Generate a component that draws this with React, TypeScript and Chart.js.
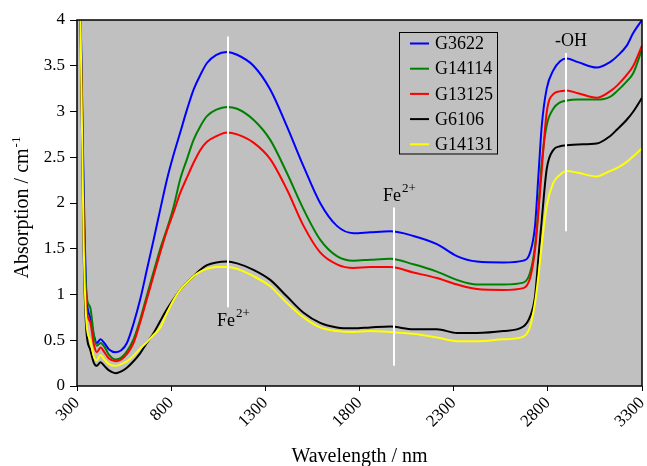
import { useEffect, useRef } from "react";
import { Chart, registerables } from "chart.js";
Chart.register(...registerables);

// Wavelength grid (nm) shared by all series
const WAVELENGTHS = [315, 335, 350, 370, 390, 405, 425, 445, 470, 505, 535, 565, 600, 636, 671, 707, 742, 778, 813, 848, 884, 919, 955, 990, 1040, 1096, 1150, 1237, 1326, 1414, 1503, 1591, 1680, 1768, 1857, 1963, 2086, 2211, 2317, 2423, 2564, 2670, 2706, 2732, 2750, 2768, 2794, 2829, 2865, 2900, 2960, 3060, 3130, 3166, 3219, 3254, 3300];

const G3622 = [4.6, 2.2, 1.0, 0.75, 0.55, 0.47, 0.51, 0.47, 0.4, 0.37, 0.39, 0.47, 0.68, 0.95, 1.27, 1.6, 1.93, 2.26, 2.53, 2.77, 3.02, 3.24, 3.4, 3.53, 3.62, 3.65, 3.62, 3.5, 3.24, 2.84, 2.4, 2.0, 1.75, 1.67, 1.68, 1.69, 1.64, 1.55, 1.42, 1.36, 1.35, 1.37, 1.46, 1.75, 2.3, 2.85, 3.25, 3.45, 3.55, 3.58, 3.54, 3.48, 3.54, 3.6, 3.72, 3.86, 4.0];
const G14114 = [4.6, 2.0, 1.0, 0.86, 0.55, 0.44, 0.47, 0.43, 0.34, 0.29, 0.31, 0.38, 0.51, 0.73, 0.99, 1.25, 1.5, 1.72, 1.96, 2.26, 2.48, 2.69, 2.84, 2.95, 3.02, 3.05, 3.03, 2.91, 2.69, 2.33, 1.93, 1.6, 1.42, 1.37, 1.38, 1.39, 1.33, 1.25, 1.16, 1.11, 1.11, 1.13, 1.24, 1.53, 1.95, 2.45, 2.85, 3.03, 3.1, 3.12, 3.13, 3.13, 3.16, 3.22, 3.33, 3.42, 3.68];
const G13125 = [4.6, 1.8, 0.85, 0.7, 0.45, 0.37, 0.42, 0.37, 0.3, 0.27, 0.29, 0.35, 0.47, 0.7, 0.95, 1.21, 1.46, 1.7, 1.9, 2.11, 2.28, 2.44, 2.58, 2.67, 2.73, 2.77, 2.75, 2.66, 2.48, 2.15, 1.75, 1.46, 1.33, 1.29, 1.3, 1.3, 1.24, 1.18, 1.11, 1.06, 1.05, 1.07, 1.18, 1.49, 1.9, 2.37, 2.99, 3.19, 3.22, 3.23, 3.2, 3.15, 3.22, 3.28, 3.4, 3.5, 3.72];
const G6106 = [4.6, 1.5, 0.6, 0.4, 0.25, 0.22, 0.26, 0.22, 0.17, 0.14, 0.16, 0.2, 0.27, 0.36, 0.47, 0.58, 0.71, 0.84, 0.95, 1.05, 1.13, 1.2, 1.27, 1.32, 1.35, 1.36, 1.34, 1.27, 1.16, 0.98, 0.8, 0.69, 0.64, 0.63, 0.64, 0.65, 0.62, 0.62, 0.58, 0.58, 0.6, 0.65, 0.76, 0.98, 1.4, 1.82, 2.37, 2.58, 2.62, 2.63, 2.64, 2.65, 2.73, 2.8, 2.91, 3.0, 3.15];
const G14131 = [4.6, 1.6, 0.7, 0.5, 0.32, 0.28, 0.34, 0.29, 0.24, 0.22, 0.24, 0.27, 0.33, 0.41, 0.48, 0.56, 0.64, 0.8, 0.94, 1.05, 1.13, 1.2, 1.25, 1.28, 1.3, 1.3, 1.28, 1.2, 1.09, 0.91, 0.75, 0.64, 0.6, 0.59, 0.6, 0.59, 0.57, 0.53, 0.49, 0.49, 0.51, 0.54, 0.65, 0.91, 1.2, 1.55, 1.97, 2.22, 2.31, 2.35, 2.33, 2.29, 2.35, 2.38, 2.45, 2.51, 2.6];

const SERIES_NAMES = ["G3622", "G14114", "G13125", "G6106", "G14131"];
const SERIES_VALUES = [G3622, G14114, G13125, G6106, G14131];
const SERIES_COLORS = ["#0000ff", "#008000", "#ff0000", "#000000", "#ffff00"];

const X_TICKS = [300, 800, 1300, 1800, 2300, 2800, 3300];
const X_MIN = 300;
const X_MAX = 3300;
const Y_MIN = 0;
const Y_MAX = 4;
const Y_STEP = 0.5;

// Band markers (white vertical lines with labels)
const MARK_WL = [1100, 1985, 2895];
const MARK_TOP = [3.82, 1.95, 3.64];
const MARK_BOTTOM = [0.86, 0.22, 1.69];
const MARK_TEXT = ["Fe", "Fe", "-OH"];
const MARK_SUP = ["2+", "2+", ""];
const MARK_SIDE = ["below", "above", "above"];

const X_TITLE = "Wavelength / nm";
const Y_TITLE = "Absorption / cm";
const Y_TITLE_SUP = "-1";

const FONT = "'Liberation Serif', 'Times New Roman', serif";

const decor = {
  id: "decor",
  beforeDraw(chart: any) {
    const { ctx, chartArea } = chart;
    const { left, top, right, bottom } = chartArea;
    ctx.save();
    ctx.fillStyle = "#ffffff";
    ctx.fillRect(0, 0, chart.width, chart.height);
    ctx.fillStyle = "#c0c0c0";
    ctx.fillRect(left, top, right - left, bottom - top);
    ctx.restore();
  },
  afterDatasetsDraw(chart: any) {
    const { ctx, chartArea, scales } = chart;
    const { left, top, right, bottom } = chartArea;
    const xs = scales.x;
    const ys = scales.y;
    ctx.save();
    // white marker lines
    ctx.strokeStyle = "#ffffff";
    ctx.lineWidth = 2;
    for (let i = 0; i < MARK_WL.length; i++) {
      const x = Math.round(xs.getPixelForValue(MARK_WL[i]));
      const y1 = ys.getPixelForValue(MARK_TOP[i]);
      const y2 = ys.getPixelForValue(MARK_BOTTOM[i]);
      ctx.strokeStyle = "#ffffff";
      ctx.lineWidth = 2;
      ctx.beginPath();
      ctx.moveTo(x, y1);
      ctx.lineTo(x, y2);
      ctx.stroke();
      // label
      ctx.fillStyle = "#000000";
      ctx.textBaseline = "alphabetic";
      ctx.textAlign = "left";
      ctx.font = `18px ${FONT}`;
      const w1 = ctx.measureText(MARK_TEXT[i]).width;
      ctx.font = `13px ${FONT}`;
      const w2 = MARK_SUP[i] ? ctx.measureText(MARK_SUP[i]).width : 0;
      const total = w1 + w2;
      const cx = x + 5;
      const baseY = MARK_SIDE[i] === "below" ? y2 + 19 : y1 - 7;
      ctx.font = `18px ${FONT}`;
      ctx.fillText(MARK_TEXT[i], cx - total / 2, baseY);
      if (MARK_SUP[i]) {
        ctx.font = `13px ${FONT}`;
        ctx.fillText(MARK_SUP[i], cx - total / 2 + w1 + 1, baseY - 9);
      }
    }
    // plot frame
    ctx.strokeStyle = "#000000";
    ctx.lineWidth = 1.5;
    ctx.strokeRect(left, top, right - left, bottom - top);

    // legend
    const lx = 399.5, ly = 32.5, lw = 98, lh = 121.5;
    ctx.lineWidth = 1;
    ctx.strokeStyle = "#000000";
    ctx.strokeRect(lx, ly, lw, lh);
    ctx.font = `18px ${FONT}`;
    ctx.textBaseline = "middle";
    ctx.textAlign = "left";
    chart.data.datasets.forEach((ds: any, i: number) => {
      const yy = ly + 11 + i * 25.2;
      ctx.strokeStyle = ds.borderColor;
      ctx.lineWidth = 2;
      ctx.beginPath();
      ctx.moveTo(410, yy);
      ctx.lineTo(429, yy);
      ctx.stroke();
      ctx.fillStyle = "#000000";
      ctx.fillText(ds.label, 435, yy + 1);
    });

    // axis titles
    ctx.fillStyle = "#000000";
    ctx.font = `20px ${FONT}`;
    ctx.textAlign = "center";
    ctx.textBaseline = "alphabetic";
    ctx.fillText(X_TITLE, (left + right) / 2, 462);

    ctx.translate(28, 208);
    ctx.rotate(-Math.PI / 2);
    ctx.font = `20px ${FONT}`;
    const m1 = ctx.measureText(Y_TITLE).width;
    ctx.font = `13px ${FONT}`;
    const m2 = ctx.measureText(Y_TITLE_SUP).width;
    const start = -(m1 + m2) / 2;
    ctx.textAlign = "left";
    ctx.font = `20px ${FONT}`;
    ctx.fillText(Y_TITLE, start, 0);
    ctx.font = `13px ${FONT}`;
    ctx.fillText(Y_TITLE_SUP, start + m1 + 1, -8);
    ctx.restore();
  },
};

export default function App() {
  const ref = useRef<HTMLCanvasElement | null>(null);
  useEffect(() => {
    if (!ref.current) return;
    const datasets = SERIES_NAMES.map((name, i) => ({
      label: name,
      data: WAVELENGTHS.map((w, j) => ({ x: w, y: SERIES_VALUES[i][j] })),
      borderColor: SERIES_COLORS[i],
      backgroundColor: SERIES_COLORS[i],
      borderWidth: 2,
      pointRadius: 0,
      cubicInterpolationMode: "monotone" as const,
      fill: false,
      clip: 0,
      order: SERIES_NAMES.length - i,
    }));
    const chart = new Chart(ref.current, {
      type: "line",
      data: { datasets },
      plugins: [decor],
      options: {
        animation: false,
        responsive: false,
        devicePixelRatio: 1,
        layout: { padding: { left: 0, top: 20, right: 5, bottom: 0 } },
        plugins: { legend: { display: false }, tooltip: { enabled: false } },
        scales: {
          x: {
            type: "linear",
            min: X_MIN,
            max: X_MAX,
            afterBuildTicks: (s: any) => {
              s.ticks = X_TICKS.map((v) => ({ value: v }));
            },
            afterFit: (s: any) => {
              s.height = 80;
              s.paddingLeft = 0;
              s.paddingRight = 0;
            },
            ticks: {
              autoSkip: false,
              maxRotation: 45,
              minRotation: 45,
              color: "#000000",
              font: { family: FONT, size: 17 },
              padding: 2,
              callback: (v: any) => String(v),
            },
            grid: { drawOnChartArea: false, drawTicks: true, tickLength: 5, color: "#000000", lineWidth: 1 },
            border: { display: false },
          },
          y: {
            type: "linear",
            min: Y_MIN,
            max: Y_MAX,
            afterFit: (s: any) => {
              s.width = 77;
              s.paddingTop = 0;
              s.paddingBottom = 0;
            },
            ticks: {
              stepSize: Y_STEP,
              color: "#000000",
              font: { family: FONT, size: 17 },
              padding: 5,
              callback: (v: any) => String(Number(v)),
            },
            grid: { drawOnChartArea: false, drawTicks: true, tickLength: 7, color: "#000000", lineWidth: 1 },
            border: { display: false },
          },
        },
      },
    });
    return () => chart.destroy();
  }, []);
  return (
    <div style={{ position: "fixed", left: 0, top: 0, width: 647, height: 466, background: "#fff" }}>
      <canvas ref={ref} width={647} height={466} style={{ display: "block" }} />
    </div>
  );
}
